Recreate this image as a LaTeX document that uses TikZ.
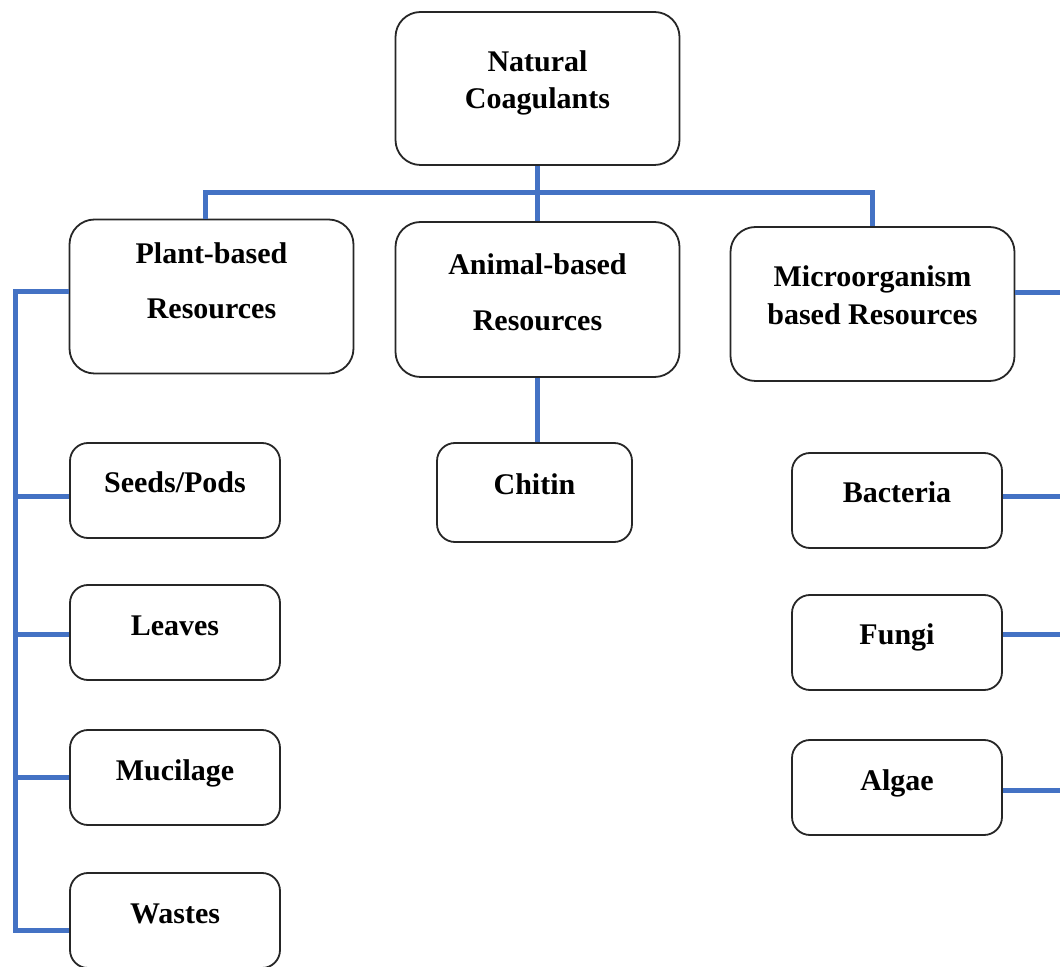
\documentclass[tikz,border=0pt]{standalone}
\usepackage{fontspec}
\setmainfont{Liberation Serif}
\usepackage{tikz}
\definecolor{linkblue}{RGB}{68,114,196}

\begin{document}
\begin{tikzpicture}[x=0.5pt, y=-0.5pt,
    box/.style={draw=black!85, line width=0.9pt, fill=white, align=center,
        inner sep=0pt, font=\bfseries\fontsize{15}{18}\selectfont},
    group/.style={box, rounded corners=12.5pt, minimum width=142pt,
        minimum height=77pt},
    leaf/.style={box, rounded corners=9pt, minimum width=105pt,
        minimum height=47.5pt, text height=10pt, text depth=7.5pt},
    link/.style={draw=linkblue, line width=2.5pt}]
    \useasboundingbox (0,0) rectangle (1060,967);

    % Wurzel
    \node[group, minimum height=76.5pt, text height=28.5pt, text depth=8.5pt] (nat) at (537.5,88.5) {Natural\\[0.5pt]Coagulants};

    % Gruppen
    \node[group, text height=37.5pt, text depth=15pt] (plant) at (211.5,296.5) {Plant-based\\[9.5pt]Resources};
    \node[group, minimum height=77.5pt, text height=38pt, text depth=6.5pt] (animal) at (537.5,299.5) {Animal-based\\[10pt]Resources};
    \node[group, text height=29pt, text depth=8pt] (micro) at (872.5,304) {Microorganism\\[1pt]based Resources};

    % Pflanzen
    \node[leaf] (seeds) at (175,490.5) {Seeds/Pods};
    \node[leaf] (leaves) at (175,632.5) {Leaves};
    \node[leaf] (mucilage) at (175,777.5) {Mucilage};
    \node[leaf] (wastes) at (175,920.5) {Wastes};

    % Tiere
    \node[leaf, minimum width=97.5pt, minimum height=49.5pt] (chitin) at (534.5,492.5) {Chitin};

    % Mikroorganismen
    \node[leaf] (bacteria) at (897,500.5) {Bacteria};
    \node[leaf] (fungi) at (897,642.5) {Fungi};
    \node[leaf] (algae) at (897,787.5) {Algae};

    % Hilfspunkte
    \coordinate (busL) at (205,193);
    \coordinate (lbus) at (15,930);
    \coordinate (rbus) at (1062,0);

    % obere Verbindungen
    \draw[link] (nat.south) -- (animal.north);
    \draw[link] (busL |- plant.north) -- (busL) -- (busL -| micro.north) -- (micro.north);
    \draw[link] (animal.south) -- (animal.south |- chitin.north);

    % linke Schiene
    \draw[link] ([yshift=2.25pt]plant.west) -- ([yshift=2.25pt]plant.west -| lbus) -- (lbus) -- (lbus -| wastes.west);
    \foreach \n/\d in {seeds/-3.25pt, leaves/-0.75pt, mucilage/0pt}
        \draw[link] ([yshift=\d]\n.west -| lbus) -- ([yshift=\d]\n.west);

    % rechte Seite
    \foreach \n/\d in {micro/5.5pt, bacteria/1.75pt, fungi/4.25pt, algae/-1.25pt}
        \draw[link] ([yshift=\d]\n.east) -- ([yshift=\d]\n.east -| rbus);
\end{tikzpicture}
\end{document}
